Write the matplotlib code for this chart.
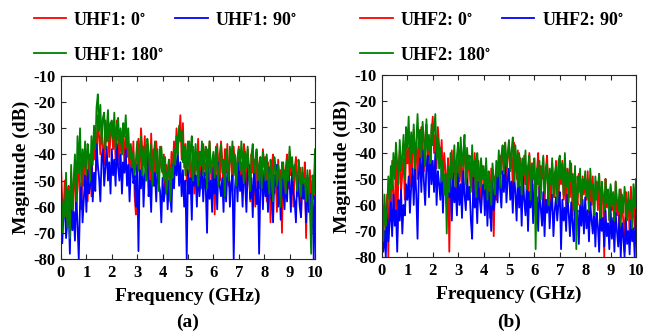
import numpy as np
import matplotlib
matplotlib.use('Agg')
import matplotlib.pyplot as plt
from matplotlib.ticker import MultipleLocator

plt.rcParams['font.family'] = 'Liberation Serif'
plt.rcParams['font.weight'] = 'bold'
plt.rcParams['mathtext.fontset'] = 'stix'
plt.rcParams['axes.unicode_minus'] = False

# ***************************
# Data (magnitude in dB, sampled every 0.05 GHz from 0 to 10 GHz)
# ***************************
freq = np.arange(201) * 0.05

uhf1_0 = [
    -44, -58, -62, -50, -68, -55, -52, -64, -47, -66, -56, -42, -60, -53, -38, -57, -61, -44, -52, -36,
    -48, -58, -40, -45, -56, -35, -42, -30, -46, -25, -33, -40, -28, -37, -44, -27, -35, -30, -41, -33,
    -28, -38, -30, -42, -27, -35, -44, -31, -40, -29, -46, -33, -41, -36, -48, -37, -45, -35, -56, -63,
    -41, -34, -47, -30, -38, -44, -33, -50, -36, -41, -55, -32, -46, -38, -52, -35, -43, -49, -37, -45,
    -47, -40, -55, -44, -50, -42, -53, -39, -46, -35, -41, -30, -37, -33, -25, -42, -28, -45, -36, -50,
    -41, -35, -52, -44, -37, -55, -40, -46, -34, -49, -39, -53, -36, -44, -48, -38, -55, -35, -45, -58,
    -40, -63, -47, -36, -44, -50, -35, -42, -55, -38, -47, -36, -52, -41, -39, -54, -37, -45, -50, -42,
    -37, -48, -43, -55, -36, -40, -52, -38, -45, -58, -40, -47, -42, -60, -39, -44, -53, -41, -49, -38,
    -45, -41, -58, -43, -50, -66, -44, -40, -55, -48, -62, -42, -51, -46, -70, -43, -56, -45, -40, -53,
    -39, -48, -43, -60, -46, -41, -56, -50, -45, -64, -47, -52, -43, -72, -49, -55, -46, -66, -50, -57,
    -45]
uhf1_90 = [
    -52, -74, -63, -58, -72, -66, -61, -78, -56, -69, -62, -73, -54, -67, -80, -59, -51, -66, -57, -48,
    -62, -46, -55, -52, -41, -58, -47, -54, -36, -44, -49, -58, -41, -38, -52, -45, -37, -50, -43, -55,
    -38, -48, -42, -52, -36, -45, -50, -40, -55, -43, -47, -38, -52, -44, -58, -46, -43, -51, -48, -60,
    -44, -77, -46, -53, -41, -60, -48, -45, -39, -56, -50, -62, -43, -52, -47, -58, -45, -51, -54, -66,
    -49, -58, -53, -47, -61, -50, -56, -62, -44, -53, -41, -48, -39, -52, -43, -56, -46, -60, -50, -80,
    -46, -55, -49, -65, -44, -52, -48, -60, -43, -56, -50, -45, -58, -47, -53, -70, -45, -57, -50, -62,
    -45, -55, -48, -61, -43, -52, -56, -49, -62, -45, -58, -47, -44, -60, -51, -48, -80, -53, -46, -58,
    -43, -54, -48, -60, -45, -51, -62, -47, -44, -57, -49, -64, -46, -53, -59, -48, -78, -52, -47, -61,
    -46, -56, -50, -62, -45, -54, -58, -66, -48, -52, -44, -60, -50, -65, -47, -55, -61, -49, -58, -46,
    -50, -62, -47, -55, -58, -66, -48, -53, -60, -64, -49, -57, -52, -66, -48, -62, -55, -70, -51, -80,
    -56]
uhf1_180 = [
    -52, -70, -58, -64, -47, -68, -54, -72, -44, -61, -50, -40, -58, -33, -47, -30, -52, -38, -45, -35,
    -48, -36, -41, -50, -33, -44, -29, -38, -22, -17, -31, -21, -36, -26, -24, -38, -30, -23, -35, -28,
    -27, -34, -24, -38, -29, -26, -36, -30, -40, -28, -33, -25, -37, -30, -42, -36, -45, -39, -48, -42,
    -35, -46, -40, -33, -48, -37, -44, -50, -34, -39, -46, -36, -52, -41, -35, -47, -38, -54, -42, -37,
    -44, -50, -41, -55, -47, -42, -58, -45, -49, -38, -44, -33, -40, -29, -35, -31, -43, -37, -48, -40,
    -35, -47, -38, -33, -50, -42, -36, -45, -52, -39, -44, -35, -48, -40, -37, -53, -41, -35, -47, -43,
    -39, -49, -37, -45, -52, -40, -36, -47, -42, -56, -38, -44, -50, -37, -43, -35, -48, -40, -52, -41,
    -38, -46, -35, -42, -51, -39, -45, -37, -48, -54, -40, -36, -47, -43, -38, -50, -44, -41, -53, -39,
    -43, -50, -40, -47, -55, -42, -46, -58, -41, -45, -52, -44, -48, -60, -43, -49, -46, -55, -42, -50,
    -37, -45, -41, -50, -44, -48, -54, -42, -47, -56, -45, -51, -49, -58, -46, -53, -60, -78, -48, -55,
    -38]

uhf2_0 = [
    -52, -68, -61, -74, -56, -80, -50, -62, -43, -57, -66, -40, -72, -46, -39, -55, -48, -42, -58, -37,
    -44, -38, -53, -35, -47, -31, -40, -36, -50, -33, -45, -30, -38, -47, -34, -29, -43, -36, -49, -32,
    -26, -40, -33, -46, -30, -37, -44, -35, -52, -40, -47, -57, -42, -78, -46, -39, -55, -43, -48, -58,
    -42, -51, -39, -55, -45, -37, -49, -58, -41, -46, -53, -44, -60, -40, -48, -56, -43, -50, -61, -45,
    -48, -56, -44, -62, -50, -65, -46, -55, -72, -49, -58, -45, -52, -41, -48, -38, -44, -36, -50, -42,
    -37, -46, -40, -53, -36, -44, -50, -39, -56, -42, -47, -58, -41, -52, -45, -57, -40, -49, -60, -44,
    -43, -55, -47, -40, -58, -45, -50, -42, -61, -46, -41, -54, -48, -62, -44, -51, -57, -43, -49, -59,
    -45, -52, -43, -58, -48, -62, -46, -51, -57, -44, -64, -50, -47, -55, -60, -48, -53, -65, -49, -56,
    -50, -58, -47, -63, -52, -60, -49, -66, -54, -51, -62, -48, -68, -53, -57, -80, -50, -61, -55, -66,
    -53, -62, -56, -70, -51, -64, -58, -72, -54, -60, -66, -78, -55, -63, -58, -72, -53, -65, -60, -69,
    -55]
uhf2_90 = [
    -63, -78, -70, -80, -61, -74, -67, -59, -72, -56, -68, -62, -78, -58, -66, -54, -71, -60, -64, -52,
    -58, -49, -63, -53, -46, -60, -44, -56, -73, -48, -42, -55, -39, -51, -60, -45, -41, -57, -38, -52,
    -43, -55, -40, -60, -47, -52, -58, -45, -63, -49, -54, -61, -46, -57, -50, -66, -48, -59, -53, -64,
    -48, -60, -52, -65, -47, -56, -62, -50, -58, -53, -66, -73, -49, -61, -55, -67, -51, -58, -63, -54,
    -52, -64, -49, -68, -55, -60, -70, -51, -62, -57, -48, -59, -45, -54, -61, -47, -55, -44, -59, -50,
    -46, -58, -51, -63, -48, -55, -66, -50, -61, -53, -68, -49, -58, -64, -52, -70, -55, -61, -50, -67,
    -52, -64, -57, -70, -53, -61, -68, -55, -72, -58, -63, -54, -69, -60, -56, -72, -62, -57, -66, -59,
    -55, -77, -58, -66, -61, -70, -56, -63, -72, -59, -67, -74, -57, -65, -62, -75, -60, -68, -58, -71,
    -57, -69, -62, -74, -59, -66, -71, -60, -76, -63, -68, -78, -61, -70, -65, -76, -62, -72, -67, -77,
    -61, -73, -65, -78, -63, -70, -76, -64, -80, -67, -72, -80, -65, -75, -70, -79, -66, -74, -69, -80,
    -62]
uhf2_180 = [
    -60, -74, -56, -68, -63, -49, -58, -45, -54, -40, -50, -36, -44, -52, -35, -47, -41, -33, -50, -30,
    -38, -26, -44, -32, -40, -29, -46, -36, -25, -38, -31, -42, -28, -35, -45, -27, -39, -33, -44, -29,
    -37, -31, -25, -42, -34, -46, -38, -51, -43, -56, -48, -71, -45, -55, -40, -50, -44, -37, -53, -41,
    -36, -49, -34, -45, -40, -33, -52, -38, -46, -41, -55, -37, -49, -43, -57, -40, -47, -53, -42, -50,
    -45, -54, -42, -58, -47, -51, -60, -44, -50, -56, -43, -49, -39, -53, -41, -37, -48, -36, -45, -40,
    -35, -47, -39, -34, -51, -37, -44, -53, -40, -46, -56, -42, -48, -39, -54, -45, -41, -58, -44, -50,
    -42, -77, -46, -52, -43, -58, -47, -41, -55, -49, -44, -60, -46, -52, -42, -57, -48, -45, -59, -43,
    -41, -50, -44, -56, -40, -53, -47, -59, -43, -51, -48, -62, -45, -77, -49, -55, -46, -60, -50, -54,
    -47, -57, -50, -62, -46, -54, -52, -64, -49, -58, -53, -48, -65, -51, -56, -62, -50, -59, -54, -66,
    -52, -60, -55, -66, -51, -58, -62, -54, -68, -56, -63, -53, -60, -66, -55, -62, -58, -69, -52, -61,
    -50]

panels = [
    ('UHF1', uhf1_0, uhf1_90, uhf1_180, '(a)'),
    ('UHF2', uhf2_0, uhf2_90, uhf2_180, '(b)'),
]
colors = ['#ff0000', '#0000ff', '#008000']

# ***************************
# Plot
# ***************************
fig = plt.figure(figsize=(6.46, 3.35), dpi=100)
axes_pos = [[0.0944, 0.227, 0.3932, 0.546], [0.5913, 0.233, 0.3932, 0.543]]
legend_pos = [(0.052, 0.965), (0.558, 0.965)]

for i, (name, s0, s90, s180, tag) in enumerate(panels):
    ax = fig.add_axes(axes_pos[i])
    h0, = ax.plot(freq, s0, color=colors[0], lw=1.3, label=name + r': 0$^{\circ}$')
    h90, = ax.plot(freq, s90, color=colors[1], lw=1.3, label=name + r': 90$^{\circ}$')
    h180, = ax.plot(freq, s180, color=colors[2], lw=1.3, label=name + r': 180$^{\circ}$')

    ax.set_xlim(0, 10)
    ax.set_ylim(-80, -10)
    ax.xaxis.set_major_locator(MultipleLocator(1))
    ax.yaxis.set_major_locator(MultipleLocator(10))
    ax.tick_params(direction='in', length=3.5, width=0.8, top=True, right=True,
                   labelsize=12, colors='#262626', pad=4)
    for lab in ax.get_xticklabels() + ax.get_yticklabels():
        lab.set_fontweight('bold')
        lab.set_color('black')
    for sp in ax.spines.values():
        sp.set_color('#262626')
        sp.set_linewidth(0.8)

    ax.set_xlabel('Frequency (GHz)', fontsize=14, fontweight='bold', labelpad=5)
    ax.set_ylabel('Magnitude (dB)', fontsize=14, fontweight='bold', labelpad=2)

    box = axes_pos[i]
    fig.text(box[0] + box[2] / 2, 0.012, tag, ha='center', va='bottom',
             fontsize=14, fontweight='bold')

    fig.legend(handles=[h0, h180, h90], loc='upper left', bbox_to_anchor=legend_pos[i],
               ncol=2, frameon=False, handlelength=1.8, handletextpad=0.4,
               columnspacing=0.6, labelspacing=1.0, borderpad=0, borderaxespad=0,
               prop={'weight': 'bold', 'size': 13})

fig.savefig('out.png', dpi=100)
